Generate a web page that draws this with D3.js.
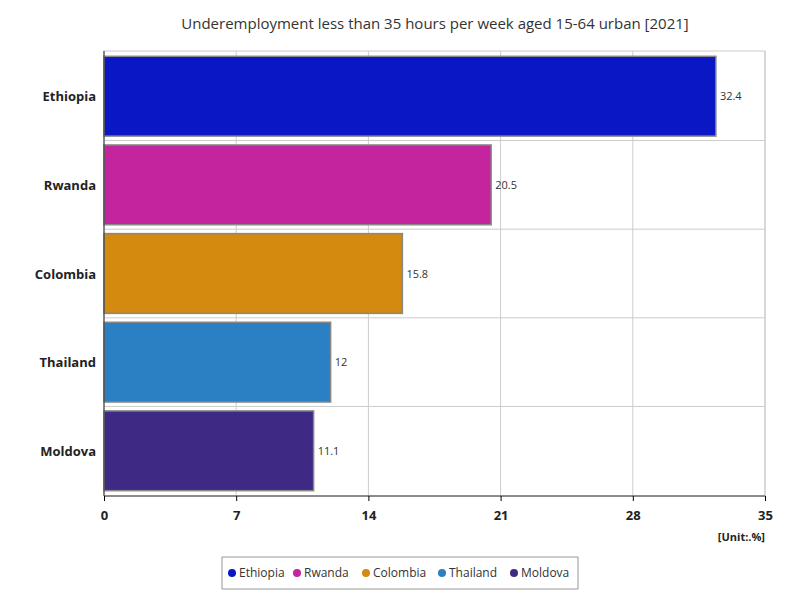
<!DOCTYPE html>
<html><head><meta charset="utf-8">
<script src="https://cdn.jsdelivr.net/npm/d3@7"></script>
<style>body{margin:0;background:#fff;font-family:"Open Sans",Arial,sans-serif}</style>
</head><body><svg id="c" width="800" height="600"></svg>
<script>
const categories=["Ethiopia","Rwanda","Colombia","Thailand","Moldova"];
const values=[32.4,20.5,15.8,12,11.1];
const colors=["#0a17c4","#c4259e","#d4890f","#2a80c2","#3e2a84"];
const ticks=[0,7,14,21,28,35];
const svg=d3.select("#c");
const L=104,R=765,T=51,B=496;
const x=d3.scaleLinear().domain([0,35]).range([L,R]);
const y=d3.scaleBand().domain(categories).range([T,B]).paddingInner(0.1).paddingOuter(0.06);
svg.append("text").attr("x",435).attr("y",29).attr("text-anchor","middle").attr("font-size",15).attr("fill","#333").text("Underemployment less than 35 hours per week aged 15-64 urban [2021]");
svg.append("rect").attr("x",L).attr("y",T).attr("width",R-L).attr("height",B-T).attr("fill","#fff").attr("stroke","#ccc");
ticks.forEach(t=>svg.append("line").attr("x1",x(t)).attr("x2",x(t)).attr("y1",T).attr("y2",B).attr("stroke","#ccc"));
const step=y.step();
categories.slice(1).forEach(c=>{const yy=y(c)-step*y.paddingInner()/2;svg.append("line").attr("x1",L).attr("x2",R).attr("y1",yy).attr("y2",yy).attr("stroke","#ccc");});
svg.selectAll(".b").data(categories).join("rect").attr("x",x(0)).attr("y",d=>y(d)).attr("width",(d,i)=>x(values[i])-x(0)).attr("height",y.bandwidth()).attr("fill",(d,i)=>colors[i]).attr("stroke","#888").attr("stroke-width",1.5);
svg.selectAll(".v").data(categories).join("text").attr("x",(d,i)=>x(values[i])+4).attr("y",d=>y(d)+y.bandwidth()/2+4).attr("font-size",11).attr("fill","#333").text((d,i)=>values[i]);
svg.selectAll(".c").data(categories).join("text").attr("x",L-8).attr("y",d=>y(d)+y.bandwidth()/2+5).attr("text-anchor","end").attr("font-size",13).attr("font-weight","bold").attr("fill","#222").text(d=>d);
svg.append("line").attr("x1",L).attr("x2",R).attr("y1",B).attr("y2",B).attr("stroke","#333");
svg.append("line").attr("x1",L).attr("x2",L).attr("y1",T).attr("y2",B).attr("stroke","#333");
const ax=svg.append("g").attr("transform",`translate(0,${B})`).call(d3.axisBottom(x).tickValues(ticks).tickSize(5));
ax.select(".domain").remove();
ax.selectAll("text").attr("font-size",13).attr("font-weight","bold").attr("fill","#222").attr("dy","1.2em").style("font-family","Open Sans");
svg.append("text").attr("x",765).attr("y",541).attr("text-anchor","end").attr("font-size",11).attr("font-weight","bold").attr("fill","#222").text("[Unit:.%]");
const lg=svg.append("g");
lg.append("rect").attr("x",222).attr("y",557).attr("width",356).attr("height",32).attr("fill","#fff").attr("stroke","#999");
const lx=[232,297,366,442,514];
categories.forEach((c,i)=>{lg.append("circle").attr("cx",lx[i]).attr("cy",573).attr("r",4).attr("fill",colors[i]);lg.append("text").attr("x",lx[i]+7).attr("y",577).attr("font-size",12).attr("fill","#333").text(c);});
</script></body></html>
